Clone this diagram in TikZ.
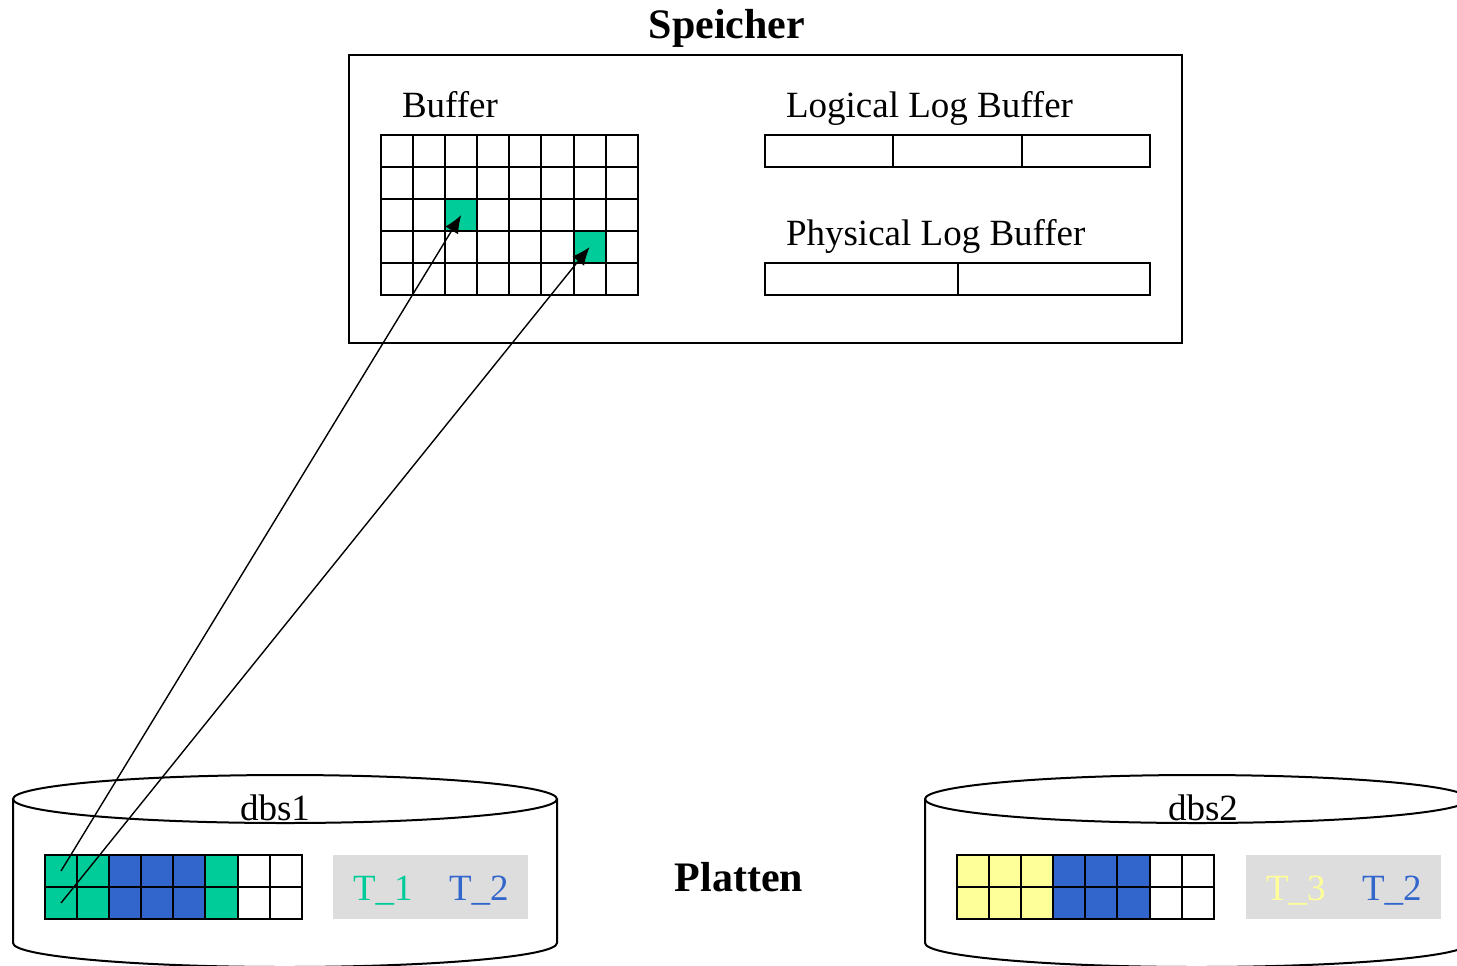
\documentclass[tikz,border=0pt]{standalone}
\usepackage{fontspec}
\setmainfont{Liberation Serif}
\usetikzlibrary{arrows.meta}

\definecolor{tgreen}{RGB}{0,204,153}
\definecolor{tblue}{RGB}{51,102,204}
\definecolor{tyellow}{RGB}{255,255,153}
\definecolor{tgrey}{RGB}{221,221,221}

\begin{document}
\begin{tikzpicture}[x=0.5pt, y=-0.5pt, line width=1pt,
  every node/.style={font=\fontsize{18.5}{22}\selectfont},
  cell/.style={draw, minimum width=16.05pt, minimum height=16pt, inner sep=0pt, outer sep=0pt},
  logcell/.style={draw, minimum height=16pt, inner sep=0pt, outer sep=0pt},
  title/.style={font=\fontsize{21}{25}\bfseries\selectfont},
  lbl/.style={inner sep=0pt, anchor=base west}]

\clip (0,0) rectangle (1457,965);

% memory
\node[title, anchor=base] (speicher) at (727,38) {Speicher};
\node[draw, minimum width=416.5pt, minimum height=144pt, inner sep=0pt] (mem) at (765.5,199) {};
\node[lbl] (buflabel) at (401,117) {Buffer};
\node[lbl] (lllabel) at (785,117) {Logical Log Buffer};
\node[lbl] (pllabel) at (785,245) {Physical Log Buffer};

% buffer pool
\foreach \r in {0,...,4}
  \foreach \c in {0,...,7}
    \node[cell] (b\r\c) at ({397+32.1*\c},{151+32*\r}) {};
\node[cell, fill=tgreen] (hot1) at (b22) {};
\node[cell, fill=tgreen] (hot2) at (b36) {};

% log buffers
\foreach \i in {0,1,2}
  \node[logcell, minimum width=64.17pt] (ll\i) at ({829.2+128.33*\i},151) {};
\foreach \i in {0,1}
  \node[logcell, minimum width=96.25pt] (pl\i) at ({861.25+192.5*\i},279) {};

% disks
\draw (285,799) ellipse[x radius=272, y radius=24];
\draw (13,799) -- (13,943) arc[start angle=180, end angle=0, x radius=272, y radius=24] -- (557,799);
\node[anchor=base] (dbs1) at (275,820) {dbs1};

\draw (1197,799) ellipse[x radius=272, y radius=24];
\draw (925,799) -- (925,943) arc[start angle=180, end angle=0, x radius=272, y radius=24] -- (1469,799);
\node[anchor=base] (dbs2) at (1203,820) {dbs2};

\node[title, anchor=base] (platten) at (739,891) {Platten};

% pages on dbs1
\foreach \c/\col in {0/tgreen,1/tgreen,2/tblue,3/tblue,4/tblue,5/tgreen,6/white,7/white}
  \foreach \r in {0,1}
    \node[cell, fill=\col] (da\r\c) at ({61+32.1*\c},{871+32*\r}) {};
\node[fill=tgrey, minimum width=97.5pt, minimum height=32pt, inner sep=0pt] (keya) at (430.5,887) {};
\node[lbl, text=tgreen] (ta1) at (352,900) {T\_1};
\node[lbl, text=tblue] (ta2) at (448,900) {T\_2};

% pages on dbs2
\foreach \c/\col in {0/tyellow,1/tyellow,2/tyellow,3/tblue,4/tblue,5/tblue,6/white,7/white}
  \foreach \r in {0,1}
    \node[cell, fill=\col] (db\r\c) at ({973+32.1*\c},{871+32*\r}) {};
\node[fill=tgrey, minimum width=97.5pt, minimum height=32pt, inner sep=0pt] (keyb) at (1343.5,887) {};
\node[lbl, text=tyellow] (tb3) at (1265,900) {T\_3};
\node[lbl, text=tblue] (tb2) at (1361,900) {T\_2};

% reads into the buffer
\draw[-{Latex[length=9pt,width=7.5pt]}, line width=0.7pt] (da00.center) -- (hot1.center);
\draw[-{Latex[length=9pt,width=7.5pt]}, line width=0.7pt] (da10.center) -- (hot2.center);

\end{tikzpicture}
\end{document}
